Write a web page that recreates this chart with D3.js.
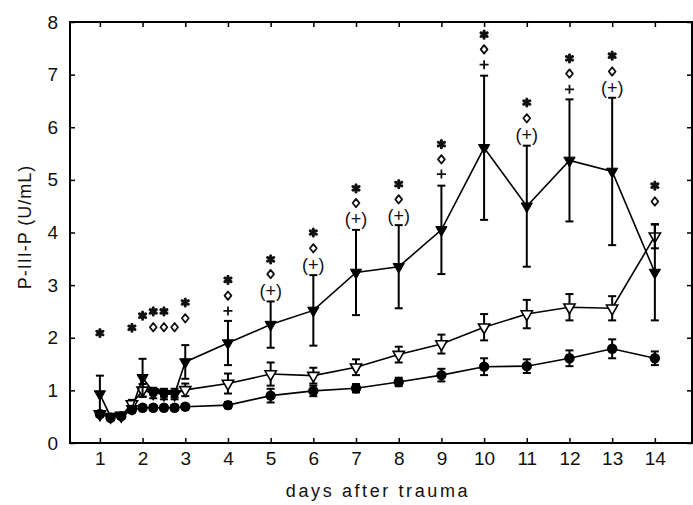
<!DOCTYPE html>
<html>
<head>
<meta charset="utf-8">
<script src="https://cdn.jsdelivr.net/npm/d3@7"></script>
<style>
body{margin:0;background:#fff}
svg{display:block;font-family:"Liberation Sans",Arial,sans-serif}
</style>
</head>
<body>
<svg id="chart" width="693" height="505"></svg>
<script>
// sampling days (6-hourly over the first 2 days, then daily)
const days = [1, 1.25, 1.5, 1.75, 2, 2.25, 2.5, 2.75, 3, 4, 5, 6, 7, 8, 9, 10, 11, 12, 13, 14];

// filled triangles
const filledTri    = [0.93, 0.50, 0.52, 0.65, 1.24, 0.97, 0.94, 0.93, 1.54, 1.90, 2.25, 2.52, 3.24, 3.35, 4.05, 5.61, 4.50, 5.37, 5.16, 3.24];
const filledTriErr = [0.35, 0.05, 0.05, 0.05, 0.36, 0.06, 0.06, 0.06, 0.32, 0.42, 0.44, 0.67, 0.81, 0.79, 0.84, 1.37, 1.15, 1.16, 1.40, 0.91];

// open triangles
const openTri    = [0.55, 0.50, 0.52, 0.74, 1.00, 0.95, 0.93, 0.93, 1.01, 1.13, 1.31, 1.28, 1.44, 1.68, 1.88, 2.20, 2.45, 2.58, 2.56, 3.93];
const openTriErr = [0.05, 0.05, 0.05, 0.08, 0.12, 0.10, 0.10, 0.10, 0.12, 0.19, 0.22, 0.15, 0.15, 0.15, 0.18, 0.25, 0.27, 0.25, 0.23, 0.23];

// filled circles
const circles    = [0.55, 0.48, 0.51, 0.63, 0.67, 0.67, 0.67, 0.67, 0.69, 0.72, 0.90, 0.99, 1.04, 1.16, 1.29, 1.45, 1.46, 1.61, 1.79, 1.61];
const circlesErr = [0.05, 0.05, 0.05, 0.05, 0.05, 0.05, 0.05, 0.05, 0.05, 0.06, 0.13, 0.10, 0.08, 0.08, 0.12, 0.16, 0.13, 0.15, 0.18, 0.13];

// significance marks [day, level]
const starMarks = [[1, 2.09], [1.75, 2.19], [2, 2.42], [2.25, 2.5], [2.5, 2.5], [3, 2.67], [4, 3.1], [5, 3.49], [6, 4.0],
                   [7, 4.84], [8, 4.92], [9, 5.68], [10, 7.76], [11, 6.47], [12, 7.31], [13, 7.36], [14, 4.89]];
const diamondMarks = [[2.25, 2.2], [2.5, 2.2], [2.75, 2.2], [3, 2.37], [4, 2.8], [5, 3.21], [6, 3.70], [7, 4.56], [8, 4.63],
                      [9, 5.39], [10, 7.48], [11, 6.17], [12, 7.02], [13, 7.06], [14, 4.59]];
const plusMarks = [[4, 2.51], [9, 5.11], [10, 7.19], [12, 6.72]];
const parenPlusMarks = [[5, 2.89], [6, 3.40], [7, 4.26], [8, 4.32], [11, 5.87], [13, 6.76]];

const xTicks = d3.range(1, 15);
const yTicks = d3.range(0, 9);

const svg = d3.select('#chart');
const x = d3.scaleLinear().domain([0.3, 14.87]).range([70, 692]);
const y = d3.scaleLinear().domain([0, 8]).range([443, 22]);

// axes, ticks pointing inward on all four sides
const axes = [
    {axis: d3.axisBottom(x).tickValues(xTicks).tickPadding(9), t: [0, 443]},
    {axis: d3.axisTop(x).tickValues(xTicks).tickFormat(''), t: [0, 22]},
    {axis: d3.axisLeft(y).tickValues(yTicks).tickPadding(12), t: [70, 0]},
    {axis: d3.axisRight(y).tickValues(yTicks).tickFormat(''), t: [692, 0]}
];
axes.forEach(({axis, t}) => {
    const g = svg.append('g')
        .attr('transform', `translate(${t})`)
        .call(axis.tickSizeInner(-5).tickSizeOuter(0));
    g.select('.domain').remove();
    g.selectAll('line').attr('stroke', '#000').attr('stroke-width', 1.5);
    g.selectAll('text')
        .attr('fill', '#111')
        .style('font-size', '19px');
});

svg.append('rect')
    .attr('x', 70).attr('y', 22)
    .attr('width', 622).attr('height', 421)
    .attr('fill', 'none')
    .attr('stroke', '#000')
    .attr('stroke-width', 2);

// axis titles
svg.append('text')
    .attr('x', 378).attr('y', 497)
    .attr('text-anchor', 'middle')
    .style('font-size', '18px')
    .style('letter-spacing', '2.6px')
    .attr('fill', '#111')
    .text('days after trauma');

svg.append('text')
    .attr('transform', 'translate(31,227) rotate(-90)')
    .attr('text-anchor', 'middle')
    .style('font-size', '18px')
    .style('letter-spacing', '1px')
    .attr('fill', '#111')
    .text('P-III-P (U/mL)');

const series = [
    {vals: openTri, err: openTriErr, kind: 'open'},
    {vals: circles, err: circlesErr, kind: 'circle'},
    {vals: filledTri, err: filledTriErr, kind: 'filled'}
].map(s => ({...s, pts: days.map((d, i) => ({day: d, v: s.vals[i], e: s.err[i]}))}));

const line = d3.line().x(d => x(d.day)).y(d => y(d.v));
const tri = d3.symbol().type(d3.symbolTriangle).size(55);

series.forEach(s => {
    const g = svg.append('g');

    g.append('path')
        .datum(s.pts)
        .attr('d', line)
        .attr('fill', 'none')
        .attr('stroke', '#000')
        .attr('stroke-width', 1.6);

    // error bars
    const eb = g.selectAll('.eb')
        .data(s.pts)
        .enter()
        .append('g')
        .attr('class', 'eb');
    eb.append('line')
        .attr('x1', d => x(d.day)).attr('x2', d => x(d.day))
        .attr('y1', d => y(d.v - d.e)).attr('y2', d => y(d.v + d.e));
    eb.append('line')
        .attr('x1', d => x(d.day) - 4).attr('x2', d => x(d.day) + 4)
        .attr('y1', d => y(d.v + d.e)).attr('y2', d => y(d.v + d.e));
    eb.append('line')
        .attr('x1', d => x(d.day) - 4).attr('x2', d => x(d.day) + 4)
        .attr('y1', d => y(d.v - d.e)).attr('y2', d => y(d.v - d.e));
    eb.selectAll('line').attr('stroke', '#000').attr('stroke-width', 2);

    // markers
    if (s.kind === 'circle') {
        g.selectAll('.mk')
            .data(s.pts)
            .enter()
            .append('circle')
            .attr('class', 'mk')
            .attr('cx', d => x(d.day))
            .attr('cy', d => y(d.v))
            .attr('r', 5.2)
            .attr('fill', '#000');
    } else {
        g.selectAll('.mk')
            .data(s.pts)
            .enter()
            .append('path')
            .attr('class', 'mk')
            .attr('d', tri)
            .attr('transform', d => `translate(${x(d.day)},${y(d.v)}) rotate(180)`)
            .attr('fill', s.kind === 'filled' ? '#000' : '#fff')
            .attr('stroke', '#000')
            .attr('stroke-width', s.kind === 'filled' ? 1 : 1.6);
    }
});

// significance symbols
const marks = svg.append('g');

marks.selectAll('.star')
    .data(starMarks)
    .enter()
    .append('path')
    .attr('class', 'star')
    .attr('d', 'M0,-3.6V3.6M-3.1,-1.8L3.1,1.8M-3.1,1.8L3.1,-1.8')
    .attr('transform', ([d, v]) => `translate(${x(d)},${y(v)})`)
    .attr('stroke', '#111')
    .attr('stroke-width', 3)
    .attr('stroke-linecap', 'round');

marks.selectAll('.dia')
    .data(diamondMarks)
    .enter()
    .append('path')
    .attr('class', 'dia')
    .attr('d', 'M0,-4.2L3.4,0L0,4.2L-3.4,0Z')
    .attr('transform', ([d, v]) => `translate(${x(d)},${y(v)})`)
    .attr('fill', 'none')
    .attr('stroke', '#111')
    .attr('stroke-width', 1.8)
    .attr('stroke-linejoin', 'round');

marks.selectAll('.plus')
    .data(plusMarks)
    .enter()
    .append('path')
    .attr('class', 'plus')
    .attr('d', 'M0,-4.5V4.5M-4.5,0H4.5')
    .attr('transform', ([d, v]) => `translate(${x(d)},${y(v)})`)
    .attr('stroke', '#111')
    .attr('stroke-width', 1.8);

marks.selectAll('.pplus')
    .data(parenPlusMarks)
    .enter()
    .append('text')
    .attr('class', 'pplus')
    .attr('x', ([d]) => x(d))
    .attr('y', ([, v]) => y(v))
    .attr('dy', '0.36em')
    .attr('text-anchor', 'middle')
    .style('font-size', '18px')
    .attr('fill', '#111')
    .text('(+)');
</script>
</body>
</html>
